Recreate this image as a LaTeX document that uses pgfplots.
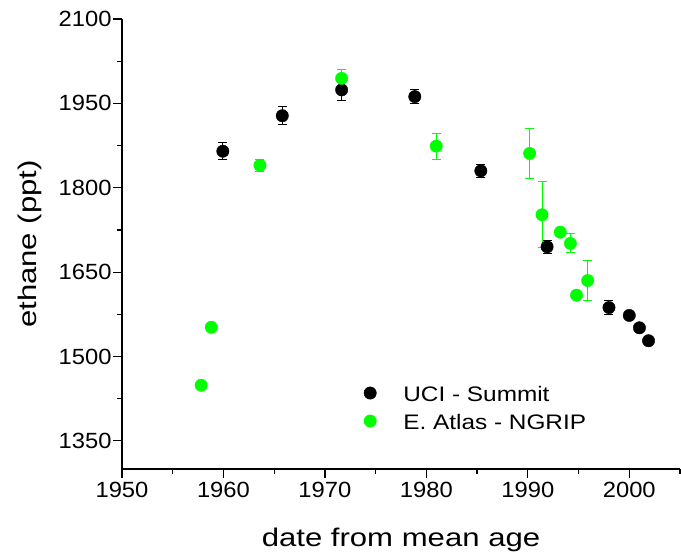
\documentclass[border=0pt]{standalone}
\usepackage{fontspec}
\setmainfont{Liberation Sans}
\newfontfamily\labelfont{Liberation Sans}[FakeStretch=1.22]
\newfontfamily\legfont{Liberation Sans}[FakeStretch=1.16]
\newfontfamily\tickfont{Liberation Sans}[FakeStretch=1.08]
\usepackage{pgfplots}
\pgfplotsset{compat=1.18}
\definecolor{ngrip}{RGB}{0,255,0}

\pgfplotstableread{
x y e
1959.94 1865 15
1965.8 1928 16
1971.65 1974 19
1978.86 1962 12
1985.37 1830 12
1991.9 1695 12
1998.0 1587 12
2000.0 1573 0
2001.0 1551 0
2001.9 1528 0
}\uci

\pgfplotstableread{
x y e
1957.8 1449 0
1958.8 1552 0
1963.6 1840 11
1971.65 1994.5 15
1980.97 1874 23
1990.18 1861 45
1991.4 1752 59
1993.2 1721 0
1994.2 1701 17
1994.8 1609 0
1995.9 1635 35
}\ngrip

\begin{document}
\begin{tikzpicture}
\begin{axis}[
  scale only axis,
  width=558bp, height=450bp,
  xmin=1950, xmax=2005, ymin=1300, ymax=2100,
  clip=false,
  axis lines*=left,
  axis line style={-, line width=1.4bp, black},
  xtick={1950,1960,...,2000},
  minor xtick={1955,1965,...,2005},
  ytick={1350,1500,...,2100},
  minor ytick={1425,1575,...,2025},
  tick align=outside,
  major tick length=9bp,
  minor tick length=5bp,
  every tick/.style={line width=1.2bp, black},
  /pgf/number format/assume math mode=true,
  /pgf/number format/1000 sep={},
  tick label style={font=\tickfont\fontsize{22bp}{26bp}\selectfont},
  yticklabel style={xshift=2bp},
  xticklabel style={yshift=-1bp},
  xlabel={date from mean age},
  ylabel={ethane (ppt)},
  every axis x label/.style={at={(axis description cs:0.5,0)}, anchor=base, yshift=-77.7bp, font=\labelfont\fontsize{25.5bp}{30bp}\selectfont},
  every axis y label/.style={at={(axis description cs:0,0.5)}, xshift=-85.3bp, rotate=90, anchor=base, font=\labelfont\fontsize{25.5bp}{30bp}\selectfont},
  legend image code/.code={\draw[#1] plot coordinates {(0bp,2bp)};},
  legend cell align=left,
  legend style={draw=none, fill=none, at={(rel axis cs:0.4333,0.187)}, anchor=north west,
    font=\legfont\fontsize{21bp}{24bp}\selectfont,
    inner sep=0pt, row sep=8bp, column sep=27bp,
    nodes={inner sep=0pt, text height=16bp, text depth=4bp}},
]
\path (rel axis cs:0,0) ++(-122bp,-88bp) rectangle ++(681bp,557bp);
\addplot+[only marks, mark=*, mark size=6.2bp, black, mark options={fill=black, draw=black},
  error bars/.cd, y dir=both, y explicit,
  error bar style={line width=1bp, black},
  error mark options={rotate=90, mark size=4.5bp, line width=1bp, black}]
  table[x=x, y=y, y error=e] {\uci};
\addlegendentry{UCI - Summit}
\addplot+[only marks, mark=*, mark size=6.2bp, ngrip, mark options={fill=ngrip, draw=ngrip},
  error bars/.cd, y dir=both, y explicit,
  error bar style={line width=1bp, ngrip},
  error mark options={rotate=90, mark size=4.5bp, line width=1bp, ngrip}]
  table[x=x, y=y, y error=e] {\ngrip};
\addlegendentry{E. Atlas - NGRIP}
\end{axis}
\end{tikzpicture}
\end{document}
